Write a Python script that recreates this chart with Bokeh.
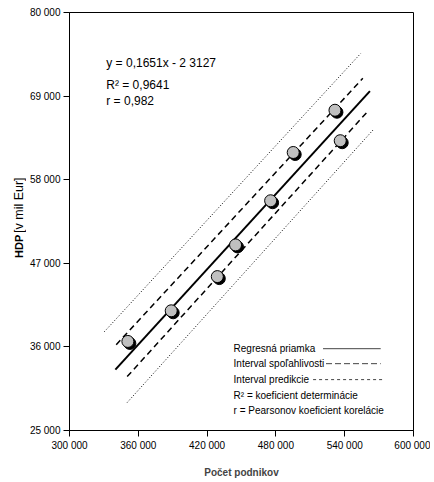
import math
from bokeh.plotting import figure
from bokeh.layouts import row
from bokeh.models import Range1d, FixedTicker, Label, ColumnDataSource
from bokeh.transform import dodge
from bokeh.core.properties import value
from bokeh.embed import file_html
from bokeh.resources import INLINE

# ---- data ----
firms = [350900, 388700, 428900, 444800, 475400, 495100, 531500, 536100]
gdp = [36720, 40750, 45250, 49420, 55230, 61580, 67140, 63130]

reg_x = [340000, 562000]
reg_y = [33010, 69660]
conf_up_x = [340750, 555800]
conf_up_y = [36290, 71340]
conf_lo_x = [350300, 561000]
conf_lo_y = [32090, 67140]
pred_up_x = [330400, 554000]
pred_up_y = [38000, 74620]
pred_lo_x = [350300, 565300]
pred_lo_y = [28680, 64640]

x_ticks = [300000, 360000, 420000, 480000, 540000, 600000]
y_ticks = [25000, 36000, 47000, 58000, 69000, 80000]

eq_lines = ["y = 0,1651x - 2 3127", "R\u00b2 = 0,9641", "r = 0,982"]
legend_items = ["Regresná priamka", "Interval spoľahlivosti", "Interval predikcie",
                "R\u00b2 = koeficient determinácie", "r = Pearsonov koeficient korelácie"]
y_title_bold = "HDP"
y_title_rest = "[v mil Eur]"

SANS = "Liberation Sans"

X0, X1, Y0, Y1 = 300000, 600000, 25000, 80000
FW, FH = 346, 419
LW = 26  # width of the strip holding the vertical axis title

yr = Range1d(Y0, Y1)
p = figure(width=430 - LW, height=480, output_backend="svg", toolbar_location=None,
           x_range=Range1d(X0, X1), y_range=yr,
           min_border_left=67 - LW, min_border_right=17, min_border_top=12, min_border_bottom=49)
p.background_fill_color = "white"
p.border_fill_color = "white"
p.grid.visible = False
p.outline_line_color = "black"
p.outline_line_width = 1

# pixel helpers (frame-relative) for annotation placement
def dx(px):
    return X0 + px * (X1 - X0) / FW

def dy(py):
    return Y1 - py * (Y1 - Y0) / FH

fmt = lambda t: f"{t:,}".replace(",", " ")
for ax, ticks in ((p.xaxis, x_ticks), (p.yaxis, y_ticks)):
    ax.ticker = FixedTicker(ticks=ticks)
    ax.major_label_overrides = {t: fmt(t) for t in ticks}
    ax.minor_tick_line_color = None
    ax.major_tick_out = 6
    ax.major_tick_in = 0
    ax.major_label_standoff = 3
    ax.major_label_text_font = SANS
    ax.major_label_text_font_size = "10px"
    ax.major_label_text_color = "black"
    ax.axis_line_color = "black"
    ax.major_tick_line_color = "black"

p.xaxis.axis_label = "Počet podnikov"
p.xaxis.axis_label_text_font = SANS
p.xaxis.axis_label_text_font_style = "bold"
p.xaxis.axis_label_text_font_size = "10px"
p.xaxis.axis_label_standoff = 13

# lines
p.line(pred_up_x, pred_up_y, line_color="black", line_width=1, line_dash="1 2")
p.line(pred_lo_x, pred_lo_y, line_color="black", line_width=1, line_dash="1 2")
p.line(conf_up_x, conf_up_y, line_color="black", line_width=1.5, line_dash="6 4")
p.line(conf_lo_x, conf_lo_y, line_color="black", line_width=1.5, line_dash="6 4")
p.line(reg_x, reg_y, line_color="black", line_width=2)

# points with shadow
src = ColumnDataSource(dict(x=firms, y=gdp))
p.scatter(x=dodge("x", (X1 - X0) / FW * 2, range=p.x_range),
          y=dodge("y", -(Y1 - Y0) / FH * 2, range=p.y_range),
          source=src, size=12, fill_color="black", line_color="black")
p.scatter(x="x", y="y", source=src, size=12, fill_color="#c0c0c0",
          line_color="black", line_width=1)

# equation text
for tx, py in zip(eq_lines, [51, 73, 89]):
    p.add_layout(Label(x=dx(37), y=dy(py), text=tx, text_font=SANS,
                       text_font_size="12px", text_baseline="middle",
                       text_color="black"))

# legend box
rows = [337, 352, 368, 384, 399]
for tx, py in zip(legend_items, rows):
    p.add_layout(Label(x=dx(165), y=dy(py), text=tx, text_font=SANS,
                       text_font_size="10px", text_baseline="middle",
                       text_color="black"))
p.segment(x0=[dx(255)], y0=[dy(rows[0])], x1=[dx(313)], y1=[dy(rows[0])],
          line_color="#444444", line_width=1)
p.segment(x0=[dx(258)], y0=[dy(rows[1])], x1=[dx(313)], y1=[dy(rows[1])],
          line_color="#444444", line_width=1, line_dash="6 3")
p.segment(x0=[dx(245)], y0=[dy(rows[2])], x1=[dx(315)], y1=[dy(rows[2])],
          line_color="#444444", line_width=1, line_dash="3 3")

# strip with the vertical axis title (bold + regular parts)
t = figure(width=LW, height=480, output_backend="svg", toolbar_location=None,
           x_range=Range1d(0, LW), y_range=yr,
           x_axis_location=None, y_axis_location=None,
           min_border_left=0, min_border_right=0, min_border_top=12, min_border_bottom=49)
t.grid.visible = False
t.outline_line_color = None
t.text(x=[18], y=[dy(246)], text=[y_title_bold], angle=math.pi / 2,
       text_font=value(SANS), text_font_style="bold", text_font_size="11px",
       text_baseline="middle", text_align="left", text_color="black")
t.text(x=[18], y=[dy(221)], text=[y_title_rest], angle=math.pi / 2,
       text_font=value(SANS), text_font_size="12.5px",
       text_baseline="middle", text_align="left", text_color="black")

layout = row(t, p, spacing=0)
open("out.html", "w").write(file_html(layout, INLINE))
